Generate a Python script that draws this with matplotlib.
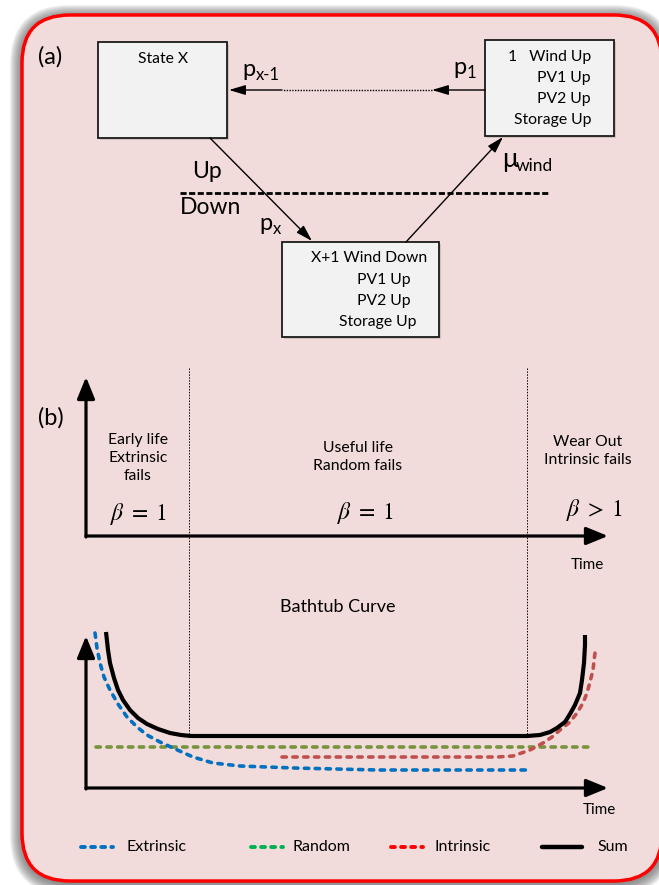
import matplotlib
matplotlib.use("Agg")
import matplotlib.pyplot as plt
from matplotlib.patches import FancyBboxPatch, Rectangle
import numpy as np

plt.rcParams['font.family'] = ['Lato', 'DejaVu Sans']

# ---- panel (a): state boxes (x0, y0, x1, y1) in pixel space
box_state_x = (98, 42, 227, 138)
box_state_1 = (485, 40, 614, 136)
box_state_x1 = (282, 242, 439, 337)

state_x_label = "State X"
state_1_lines = ["1   Wind Up", "PV1 Up", "PV2 Up", "Storage Up"]
state_1_y = [57, 78, 99, 120]
state_x1_lines = ["X+1 Wind Down", "PV1 Up", "PV2 Up", "Storage Up"]
state_x1_x = [311, 357, 357, 339]
state_x1_y = [258, 280, 301, 322]

# ---- panel (b): phase labels
phase_text = ["Early life\nExtrinsic\nfails", "Useful life\nRandom fails", "Wear Out\nIntrinsic fails"]
phase_x = [138, 358, 588]
phase_y = [458, 457, 451]
beta_text = [r"$\beta\;=\;1$", r"$\beta\;=\;1$", r"$\beta\;>\;1$"]
beta_x = [138, 365, 594]
beta_y = [514, 513, 510]
boundary_x = [189, 527]

# ---- bathtub curves (x, y)
sum_x = [106, 108, 110, 114, 118, 123, 130, 138, 147, 158, 170, 181, 191, 527,
         540, 550, 557, 565, 570, 575, 580, 582, 584, 585, 585]
sum_y = [632, 650, 663, 678, 690, 700, 710, 718, 724, 729, 733, 735, 736, 736,
         735, 732, 728, 722, 714, 705, 693, 680, 663, 645, 635]
extrinsic_x = [95, 97, 100, 104, 110, 118, 127, 137, 147, 160, 173, 193, 213, 240, 294, 378, 531]
extrinsic_y = [633, 648, 663, 677, 690, 704, 717, 727, 735, 742, 748, 757, 763, 766, 768, 770, 770]
random_x = [96, 590]
random_y = [747, 747]
intrinsic_x = [282, 497, 513, 530, 543, 552, 560, 570, 577, 583, 587, 590, 593, 594, 595]
intrinsic_y = [757, 757, 756, 750, 743, 737, 730, 722, 713, 703, 693, 682, 670, 661, 653]

legend_labels = ["Extrinsic", "Random", "Intrinsic", "Sum"]
legend_line_x = [(81, 113), (251, 283), (391, 423), (542, 582)]
legend_text_x = [126, 293, 435, 597]
legend_colors = ["#0070C0", "#00B050", "#FF0000", "black"]

W, H = 659, 885
fig = plt.figure(figsize=(W / 100, H / 100), dpi=100)
ax = fig.add_axes([0, 0, 1, 1])
ax.set_xlim(0, W)
ax.set_ylim(H, 0)
ax.axis('off')

# frame with soft shadow
for i in range(12):
    pad = 12 - i
    ax.add_patch(FancyBboxPatch((22 - pad, 15 - pad + 2), 640 + 2 * pad, 866 + 2 * pad,
                                boxstyle="round,pad=0,rounding_size=%d" % (48 + pad),
                                fc='#606060', ec='none', alpha=0.09, zorder=0))
ax.add_patch(FancyBboxPatch((22, 15), 640, 866, boxstyle="round,pad=0,rounding_size=48",
                            fc='#F2DCDB', ec='#FF0000', lw=2.5, zorder=1))


def draw_box(b):
    x0, y0, x1, y1 = b
    ax.add_patch(Rectangle((x0 + 2, y0 + 2), x1 - x0, y1 - y0, fc='#9a8a8a', ec='none', alpha=0.35, zorder=2))
    ax.add_patch(Rectangle((x0, y0), x1 - x0, y1 - y0, fc='#F2F2F2', ec='#1a1a1a', lw=1.3, zorder=3))


for b in [box_state_x, box_state_1, box_state_x1]:
    draw_box(b)

box_fs = 11.3
ax.text(163, 59, state_x_label, ha='center', va='center', fontsize=box_fs, zorder=4)
for t, y in zip(state_1_lines, state_1_y):
    ax.text(591, y, t, ha='right', va='center', fontsize=box_fs, zorder=4)
for t, x, y in zip(state_x1_lines, state_x1_x, state_x1_y):
    ax.text(x, y, t, ha='left', va='center', fontsize=box_fs, zorder=4)


def arrow(tail, tip, lw=1.0, ms=10, hl=1.0, hw=0.3):
    ax.annotate('', xy=tip, xytext=tail, zorder=5,
                arrowprops=dict(arrowstyle='-|>,head_length=%g,head_width=%g' % (hl, hw),
                                mutation_scale=ms, lw=lw, color='black',
                                shrinkA=0, shrinkB=0))


# horizontal transition p1 ... p_{x-1}
arrow((485, 90), (432, 90))
ax.plot([432, 282], [90, 90], color='black', lw=1.0, ls=(0, (1, 1)), zorder=4)
arrow((282, 90), (229, 90))
ax.text(242, 69, "p", fontsize=17, ha='left', va='center')
ax.text(256, 75, "x-1", fontsize=12, ha='left', va='center')
ax.text(453, 67, "p", fontsize=17, ha='left', va='center')
ax.text(467, 73, "1", fontsize=12, ha='left', va='center')

# diagonal transitions
arrow((210, 138), (312, 241))
arrow((406, 242), (503, 137))
ax.text(259, 223, "p", fontsize=17, ha='left', va='center')
ax.text(273, 229, "x", fontsize=12, ha='left', va='center')
ax.text(502, 159, "\u03bc", fontsize=19, ha='left', va='center')
ax.text(516, 166, "wind", fontsize=12.5, ha='left', va='center')

# Up / Down boundary
ax.plot([180, 548], [193, 193], color='black', lw=2.0, ls=(0, (2.2, 0.9)), zorder=4)
ax.text(192, 172, "Up", fontsize=16.5, ha='left', va='center')
ax.text(180, 208, "Down", fontsize=16.5, ha='left', va='center')

ax.text(38, 57, "(a)", fontsize=17, ha='left', va='center')
ax.text(38, 418, "(b)", fontsize=17, ha='left', va='center')

# panel (b) upper axes
arrow((86, 536), (608, 536), lw=2.3, ms=12, hl=1.1, hw=0.45)
arrow((86, 537), (86, 377), lw=2.3, ms=12, hl=1.1, hw=0.45)
ax.text(587, 565, "Time", fontsize=11, ha='center', va='center')
for xb in boundary_x:
    ax.plot([xb, xb], [368, 736], color='black', lw=0.7, ls=(0, (1.5, 1.5)), zorder=3)
for t, x, y in zip(phase_text, phase_x, phase_y):
    ax.text(x, y, t, fontsize=11.3, ha='center', va='center', linespacing=1.4)
for t, x, y in zip(beta_text, beta_x, beta_y):
    ax.text(x, y, t, fontsize=17, ha='center', va='center', math_fontfamily='stix')

ax.text(338, 607, "Bathtub Curve", fontsize=13, ha='center', va='center')

# panel (b) lower axes
arrow((86, 788), (608, 788), lw=2.3, ms=12, hl=1.1, hw=0.45)
arrow((86, 789), (86, 636), lw=2.3, ms=12, hl=1.1, hw=0.45)
ax.text(599, 810, "Time", fontsize=11, ha='center', va='center')

dash = (0, (1.2, 1.8))
ax.plot(random_x, random_y, color='#77933C', lw=2.6, ls=dash, dash_capstyle='round', zorder=5)
ax.plot(intrinsic_x, intrinsic_y, color='#C0504D', lw=2.6, ls=dash, dash_capstyle='round', zorder=5)
ax.plot(extrinsic_x, extrinsic_y, color='#0070C0', lw=2.6, ls=dash, dash_capstyle='round', zorder=5)
ax.plot(sum_x, sum_y, color='black', lw=3.0, solid_capstyle='butt', solid_joinstyle='round', zorder=6)

# legend
for (x0, x1), c, t, xt in zip(legend_line_x, legend_colors, legend_labels, legend_text_x):
    if c == 'black':
        ax.plot([x0, x1], [847, 847], color=c, lw=3.2, solid_capstyle='round', zorder=5)
    else:
        ax.plot([x0, x1], [847, 847], color=c, lw=2.8, ls=(0, (1.0, 1.6)), dash_capstyle='round', zorder=5)
    ax.text(xt, 847, t, fontsize=11.5, ha='left', va='center')

fig.savefig("out.png", dpi=100)
